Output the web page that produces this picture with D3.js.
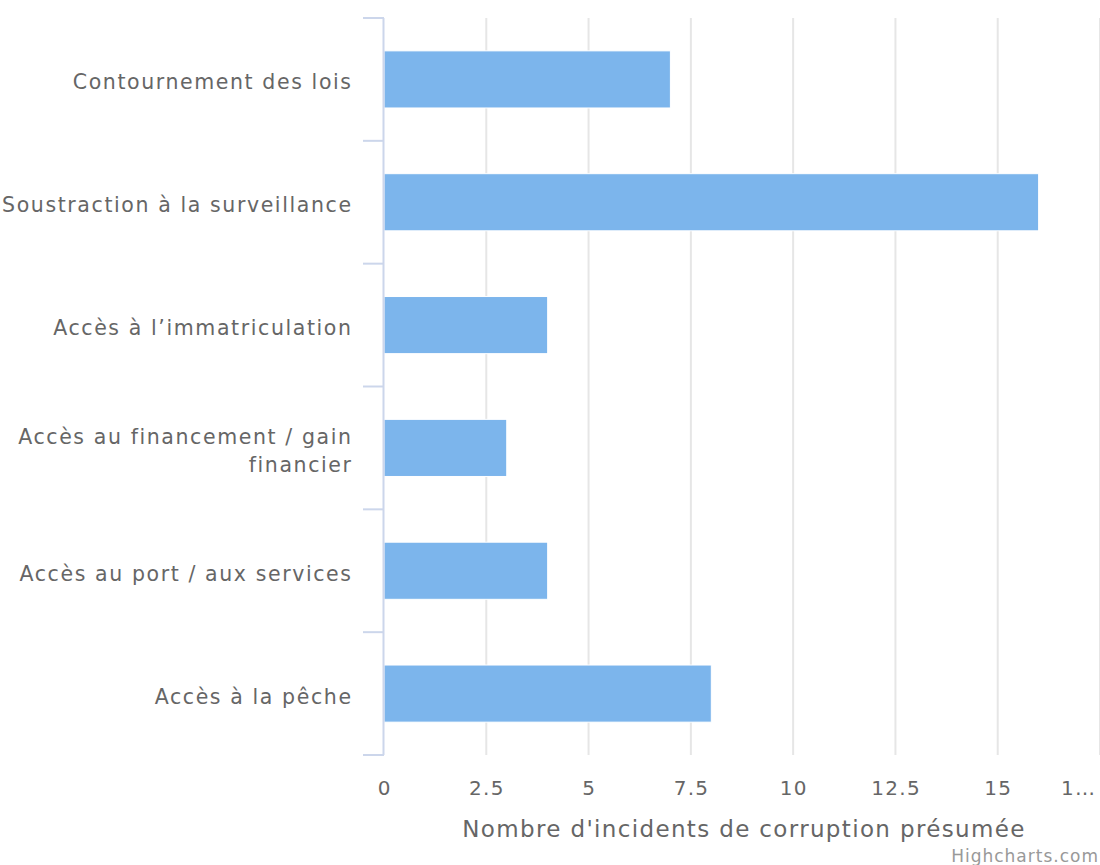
<!DOCTYPE html>
<html><head><meta charset="utf-8">
<script src="https://cdn.jsdelivr.net/npm/d3@7"></script>
<style>body{margin:0;background:#fff;} svg{display:block;font-family:"DejaVu Sans",sans-serif;}</style>
</head><body>
<svg id="c" width="1100" height="865"></svg>
<script>
const categories = [
  ["Contournement des lois"],
  ["Soustraction à la surveillance"],
  ["Accès à l’immatriculation"],
  ["Accès au financement / gain", "financier"],
  ["Accès au port / aux services"],
  ["Accès à la pêche"]
];
const values = [7, 16, 4, 3, 4, 8];
const tickValues = [0, 2.5, 5, 7.5, 10, 12.5, 15, 17.5];
const tickLabels = ["0", "2.5", "5", "7.5", "10", "12.5", "15", "1…"];
const axisTitle = "Nombre d'incidents de corruption présumée";
const credit = "Highcharts.com";

(function(){
const svg = d3.select("#c");
const pL = 384, pR = 1100, pT = 18, pB = 755;
const x = d3.scaleLinear().domain([0, 17.5]).range([pL, pR]);
const y = d3.scaleBand().domain(d3.range(categories.length)).range([pT, pB]).paddingInner(0.535).paddingOuter(0.2675);

svg.append("g").selectAll("line").data(tickValues.slice(1)).join("line")
  .attr("x1", d => x(d)).attr("x2", d => x(d)).attr("y1", pT).attr("y2", pB)
  .attr("stroke", "#e6e6e6").attr("stroke-width", 2);

svg.append("g").selectAll("rect").data(values).join("rect")
  .attr("x", x(0)).attr("y", (d, i) => y(i))
  .attr("width", d => x(d) - x(0)).attr("height", y.bandwidth())
  .attr("fill", "#7cb5ec").attr("stroke", "#fff").attr("stroke-width", 1);

const cat = d3.scaleLinear().domain([0, categories.length]).range([pT, pB]);
svg.append("line").attr("x1", pL - 0.5).attr("x2", pL - 0.5).attr("y1", pT).attr("y2", pB)
  .attr("stroke", "#ccd6eb").attr("stroke-width", 2);
svg.append("g").selectAll("line").data(d3.range(categories.length + 1)).join("line")
  .attr("x1", pL - 21).attr("x2", pL).attr("y1", d => cat(d)).attr("y2", d => cat(d))
  .attr("stroke", "#ccd6eb").attr("stroke-width", 2);

const lab = svg.append("g").selectAll("text").data(categories).join("text")
  .attr("text-anchor", "end").attr("fill", "#666").attr("font-size", 20.5)
  .attr("letter-spacing", 1.6)
  .attr("transform", (d, i) => `translate(352.6,${cat(i + 0.5)})`);
lab.each(function(d) {
  const t = d3.select(this);
  const lh = 28;
  const off = -(d.length - 1) * lh / 2 + 10;
  d.forEach((s, k) => t.append("tspan").attr("x", 0).attr("y", off + k * lh).text(s));
});

svg.append("g").selectAll("text").data(tickValues).join("text")
  .attr("x", (d, i) => (i === tickValues.length - 1 ? 1078 : x(d)) + 0.65).attr("y", 795)
  .attr("text-anchor", "middle").attr("fill", "#666").attr("font-size", 20)
  .attr("letter-spacing", 1.3)
  .text((d, i) => tickLabels[i]);

svg.append("text").attr("x", 744).attr("y", 837).attr("text-anchor", "middle")
  .attr("fill", "#666").attr("font-size", 23).attr("letter-spacing", 1.35).text(axisTitle);

svg.append("text").attr("x", 1099).attr("y", 862).attr("text-anchor", "end")
  .attr("fill", "#999").attr("font-size", 17).attr("letter-spacing", 1).text(credit);
})();
</script>
</body></html>
